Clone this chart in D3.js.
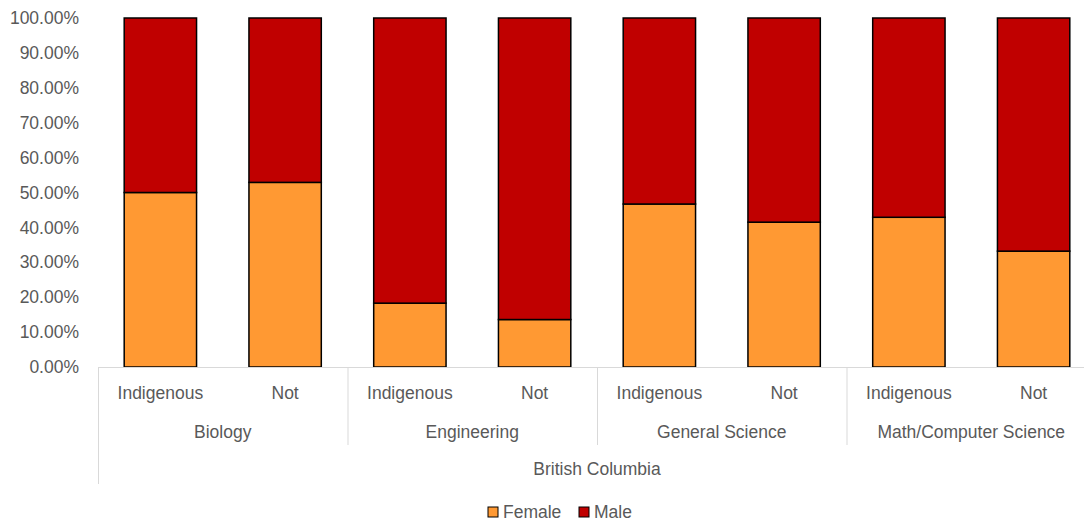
<!DOCTYPE html>
<html><head><meta charset="utf-8">
<script src="https://cdn.jsdelivr.net/npm/d3@7"></script>
<style>body{margin:0;background:#fff;} text{font-family:"Liberation Sans",Arial,sans-serif;fill:#595959;}</style>
</head><body>
<svg id="c" width="1084" height="522"></svg>
<script>
const groups = ["Biology","Engineering","General Science","Math/Computer Science"];
const subcats = ["Indigenous","Not"];
const region = "British Columbia";
const female = [50.0, 52.9, 18.3, 13.6, 46.7, 41.5, 42.9, 33.2];
const male = female.map(v => 100 - v);
const yTicks = [0,10,20,30,40,50,60,70,80,90,100];
const seriesNames = ["Female","Male"];
const colors = ["#FF9933","#C00000"];

(function(){
const FS = "17.5px";
const svg = d3.select("#c");
const mLeft = 98, mRight = 1096, mTop = 18, mBottom = 367;
const keys = [];
groups.forEach(g => subcats.forEach(s => keys.push(g + "|" + s)));
const x = d3.scaleBand().domain(keys).range([mLeft, mRight]).paddingInner(0.42).paddingOuter(0.21);
const y = d3.scaleLinear().domain([0,100]).range([mBottom, mTop]);

const rows = keys.map((k,i) => ({key:k, Female:female[i], Male:male[i]}));
const stack = d3.stack().keys(seriesNames)(rows);

svg.append("g").selectAll("g").data(stack).join("g")
  .attr("fill", (d,i) => colors[i])
  .selectAll("rect").data(d => d).join("rect")
  .attr("x", d => x(d.data.key))
  .attr("width", x.bandwidth())
  .attr("y", d => y(d[1]))
  .attr("height", d => y(d[0]) - y(d[1]))
  .attr("stroke", "#000").attr("stroke-width", 1.5);

const yAxis = d3.axisLeft(y).tickValues(yTicks).tickFormat(d => d.toFixed(2) + "%").tickSize(0).tickPadding(19);
const ya = svg.append("g").attr("transform", `translate(${mLeft},0)`).call(yAxis);
ya.select(".domain").remove();
ya.selectAll("text").style("font-size",FS).attr("fill","#595959").attr("font-family",null);

svg.append("line").attr("x1", mLeft).attr("x2", mRight).attr("y1", mBottom+0.5).attr("y2", mBottom+0.5).attr("stroke","#d9d9d9").attr("stroke-width",1);

svg.append("g").selectAll("text").data(keys).join("text")
  .attr("x", d => x(d) + x.bandwidth()/2).attr("y", 399)
  .attr("text-anchor","middle").style("font-size",FS)
  .text(d => d.split("|")[1]);

const gw = (mRight - mLeft) / groups.length;
groups.forEach((g,i) => {
  svg.append("text").attr("x", mLeft + gw*i + gw/2).attr("y", 438)
    .attr("text-anchor","middle").style("font-size",FS).text(g);
  if (i > 0) svg.append("line").attr("x1", mLeft + gw*i + 0.5).attr("x2", mLeft + gw*i + 0.5)
    .attr("y1", mBottom).attr("y2", 445).attr("stroke","#d9d9d9");
});
svg.append("line").attr("x1", mLeft + 0.5).attr("x2", mLeft + 0.5).attr("y1", mBottom).attr("y2", 484).attr("stroke","#d9d9d9");
svg.append("line").attr("x1", mRight - 0.5).attr("x2", mRight - 0.5).attr("y1", mBottom).attr("y2", 484).attr("stroke","#d9d9d9");
svg.append("text").attr("x", (mLeft+mRight)/2).attr("y", 475).attr("text-anchor","middle").style("font-size",FS).text(region);

const lg = svg.append("g");
const legendX = [488, 579];
seriesNames.forEach((n,i) => {
  lg.append("rect").attr("x", legendX[i]).attr("y", 507).attr("width", 10).attr("height", 10)
    .attr("fill", colors[i]).attr("stroke","#000").attr("stroke-width",1);
  lg.append("text").attr("x", legendX[i] + 15).attr("y", 518).style("font-size",FS).text(n);
});
})();
</script>
</body></html>
